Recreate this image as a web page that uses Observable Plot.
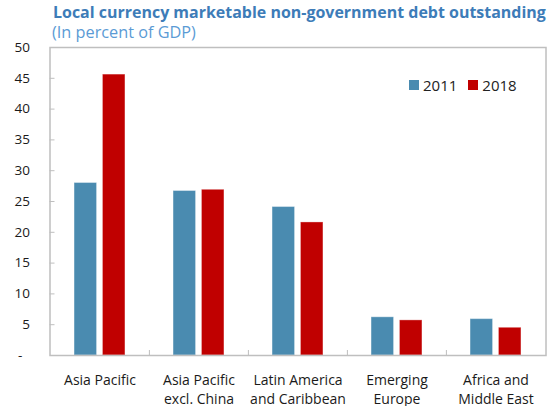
<!DOCTYPE html>
<html>
<head>
<meta charset="utf-8">
<script src="https://cdn.jsdelivr.net/npm/d3@7"></script>
<script src="https://cdn.jsdelivr.net/npm/@observablehq/plot@0.6"></script>
<style>
  html, body { margin: 0; padding: 0; background: #fff; }
  #wrap { position: relative; width: 552px; height: 406px; font-family: "Open Sans", sans-serif; }
  #chart svg text { fill: #1a1a1a; }
  #title { position: absolute; left: 53px; top: 2px; font-weight: 700; font-size: 17px; color: #3d7cb8; white-space: nowrap; line-height: 20px; }
  #subtitle { position: absolute; left: 52px; top: 23px; font-size: 15px; color: #5b9bd5; white-space: nowrap; line-height: 18px; }
  #legend { position: absolute; left: 409px; top: 75px; font-size: 15px; color: #222; display: flex; align-items: center; }
  #legend .item { display: flex; align-items: center; margin-right: 11px; }
  #legend .sw { width: 10px; height: 10px; margin-right: 4px; }
</style>
</head>
<body>
<div id="wrap">
  <div id="chart"></div>
  <div id="title"></div>
  <div id="subtitle"></div>
  <div id="legend"></div>
</div>
<script>
const titleText = "Local currency marketable non-government debt outstanding";
const subtitleText = "(In percent of GDP)";
const regions = ["Asia Pacific", "Asia Pacific\nexcl. China", "Latin America\nand Caribbean", "Emerging\nEurope", "Africa and\nMiddle East"];
const years = ["2011", "2018"];
const values2011 = [28.0, 26.7, 24.1, 6.2, 5.9];
const values2018 = [45.6, 26.9, 21.6, 5.7, 4.5];
const colors = ["#4a8bb0", "#c00000"];
const yTicks = [0, 5, 10, 15, 20, 25, 30, 35, 40, 45, 50];

const W = 552, H = 406;
const ML = 49.5, MR = 6.5, MT = 47, MB = 51;
const plotW = W - ML - MR, plotH = H - MT - MB;
const bandW = plotW / regions.length;
const barW = 22.7, gap = 5.7;
const outer = (bandW - 2 * barW - gap) / 2;

const d2011 = regions.map((r, i) => ({region: r, year: years[0], value: values2011[i]}));
const d2018 = regions.map((r, i) => ({region: r, year: years[1], value: values2018[i]}));

const chart = Plot.plot({
  width: W, height: H,
  marginLeft: ML, marginRight: MR, marginTop: MT, marginBottom: MB,
  style: {fontFamily: "Open Sans, sans-serif", fontSize: "13px", color: "#1a1a1a", background: "transparent"},
  x: {domain: regions, padding: 0, label: null},
  y: {domain: [0, 50], label: null},
  color: {domain: years, range: colors},
  marks: [
    Plot.barY(d2011, {x: "region", y: "value", fill: "year", insetLeft: outer, insetRight: outer + barW + gap, stroke: "#ffffff", strokeOpacity: 0.35, strokeWidth: 1}),
    Plot.barY(d2018, {x: "region", y: "value", fill: "year", insetLeft: outer + barW + gap, insetRight: outer, stroke: "#ffffff", strokeOpacity: 0.35, strokeWidth: 1}),
    Plot.ruleY(yTicks.filter(d => d > 0 && d < 50), {y: d => d, insetRight: plotW - 5, stroke: "#bfbfbf", strokeWidth: 1}),
    Plot.ruleX(regions.slice(1), {x: d => d, dx: -bandW / 2, insetTop: plotH - 5, stroke: "#bfbfbf", strokeWidth: 1}),
    Plot.frame({stroke: "#bfbfbf", strokeWidth: 1.5}),
    Plot.axisY({ticks: yTicks, tickFormat: d => d === 0 ? "-\u2007" : String(d), tickSize: 0, tickPadding: 20, fontSize: 13.5}),
    Plot.axisX({tickSize: 0, tickPadding: 16.5, lineHeight: 1.32, fontSize: 14})
  ]
});
document.getElementById("chart").appendChild(chart);

const t = document.getElementById("title");
t.textContent = titleText;
const st = document.getElementById("subtitle");
st.textContent = subtitleText;
// fit title/subtitle widths to reference spans
const fit = (el, size, target) => {
  const w = el.getBoundingClientRect().width;
  el.style.fontSize = (size * target / w).toFixed(2) + "px";
};
fit(t, 17, 493);
fit(st, 15, 144);

const lg = document.getElementById("legend");
years.forEach((y, i) => {
  const it = document.createElement("div");
  it.className = "item";
  const sw = document.createElement("div");
  sw.className = "sw";
  sw.style.background = colors[i];
  const tx = document.createElement("span");
  tx.textContent = y;
  it.appendChild(sw); it.appendChild(tx);
  lg.appendChild(it);
});
</script>
</body>
</html>
